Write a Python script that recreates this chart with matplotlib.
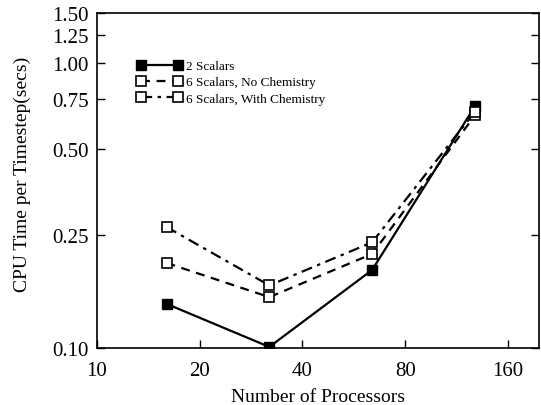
import matplotlib
matplotlib.use("Agg")
import matplotlib.pyplot as plt
from matplotlib.ticker import FixedLocator, NullLocator, FixedFormatter

plt.rcParams['font.family'] = ['Liberation Serif', 'DejaVu Serif']

processors = [16, 32, 64, 128]
two_scalars = [0.143, 0.101, 0.188, 0.705]
six_no_chem = [0.199, 0.151, 0.214, 0.655]
six_with_chem = [0.266, 0.166, 0.235, 0.675]
labels = ["2 Scalars", "6 Scalars, No Chemistry", "6 Scalars, With Chemistry"]

xticks = [10, 20, 40, 80, 160]
yticks = [0.10, 0.25, 0.50, 0.75, 1.00, 1.25, 1.50]
ytick_labels = ["0.10", "0.25", "0.50", "0.75", "1.00", "1.25", "1.50"]

fig = plt.figure(figsize=(5.41, 4.06), dpi=100)
ax = fig.add_axes([0.179, 0.140, 0.817, 0.826])

ax.plot(processors, two_scalars, '-', color='black', lw=1.6,
        marker='s', ms=6.5, mfc='black', mec='black', label=labels[0])
ax.plot(processors, six_no_chem, '--', color='black', lw=1.6, dashes=(4, 3),
        marker='s', ms=6.5, mfc='white', mec='black', mew=1.2, label=labels[1])
ax.plot(processors, six_with_chem, '-.', color='black', lw=1.6, dashes=(5, 2.5, 1.5, 2.5),
        marker='s', ms=6.5, mfc='white', mec='black', mew=1.2, label=labels[2])

ax.set_xscale('log')
ax.set_yscale('log')
ax.set_xlim(10, 197)
ax.set_ylim(0.10, 1.50)

ax.xaxis.set_major_locator(FixedLocator(xticks))
ax.xaxis.set_major_formatter(FixedFormatter([str(t) for t in xticks]))
ax.xaxis.set_minor_locator(NullLocator())
ax.yaxis.set_major_locator(FixedLocator(yticks))
ax.yaxis.set_major_formatter(FixedFormatter(ytick_labels))
ax.yaxis.set_minor_locator(NullLocator())

ax.tick_params(axis='both', which='major', direction='in', length=6, width=1,
               labelsize=15, top=False, right=True, pad=6)
ax.tick_params(axis='x', pad=9)

for s in ax.spines.values():
    s.set_linewidth(1.2)

ax.set_xlabel("Number of Processors", fontsize=14, labelpad=6)
ax.set_ylabel("CPU Time per Timestep(secs)", fontsize=14)
ax.yaxis.set_label_coords(-0.148, 0.52)

leg = ax.legend(loc='upper left', bbox_to_anchor=(0.08, 0.875), frameon=False,
                fontsize=9.5, numpoints=2, handlelength=3.4, handletextpad=0.25,
                labelspacing=0.3, borderaxespad=0.0)

fig.savefig("out.png", dpi=100)
